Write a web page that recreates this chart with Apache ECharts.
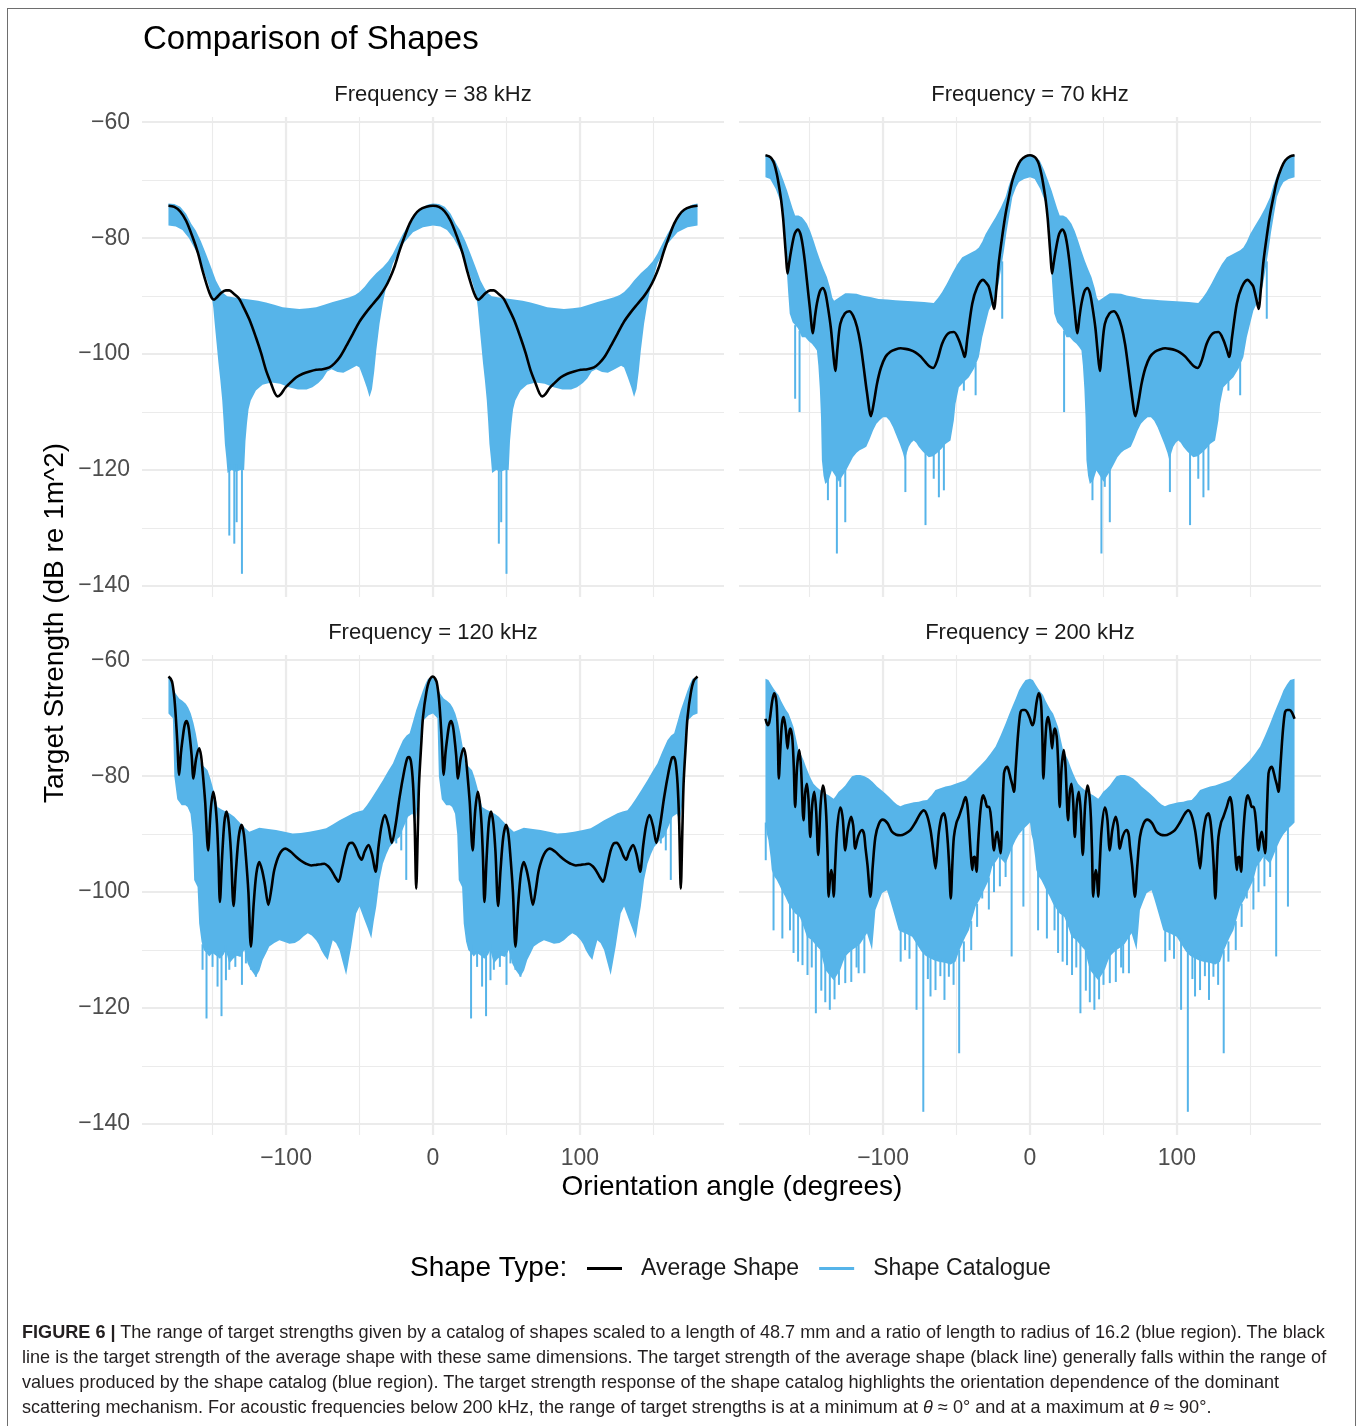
<!DOCTYPE html>
<html>
<head>
<meta charset="utf-8">
<script src="https://cdn.jsdelivr.net/npm/echarts@6/dist/echarts.min.js"></script>
<style>
html,body{margin:0;padding:0;background:#fff;}
#chart{position:absolute;left:0;top:0;width:1360px;height:1312px;}
#frame{position:absolute;left:7px;top:8px;width:1349px;height:1418px;border:1.5px solid #6e6e6e;border-bottom:none;box-sizing:border-box;pointer-events:none;}
#caption{position:absolute;left:22px;top:1320px;font-family:"Liberation Sans",Arial,Helvetica,sans-serif;font-size:18.1px;line-height:25px;color:#231f20;white-space:nowrap;}
</style>
</head>
<body>
<div id="chart"></div>
<div id="frame"></div>
<div id="caption"><b>FIGURE 6 |</b> The range of target strengths given by a catalog of shapes scaled to a length of 48.7 mm and a ratio of length to radius of 16.2 (blue region). The black<br>line is the target strength of the average shape with these same dimensions. The target strength of the average shape (black line) generally falls within the range of<br>values produced by the shape catalog (blue region). The target strength response of the shape catalog highlights the orientation dependence of the dominant<br>scattering mechanism. For acoustic frequencies below 200 kHz, the range of target strengths is at a minimum at <i>θ</i> ≈ 0° and at a maximum at <i>θ</i> ≈ 90°.</div>
<script>
// ---------------- DATA ----------------
// Each panel repeats with a 180° period; values are read for -180..0 and the
// second half of the chart (0..180) repeats the same read values.
const panelTitles = ['Frequency = 38 kHz', 'Frequency = 70 kHz', 'Frequency = 120 kHz', 'Frequency = 200 kHz'];
const xTicksMajor = [-100, 0, 100];
const xTicksMinor = [-150, -100, -50, 0, 50, 100, 150];
const yTicksMajor = [-140, -120, -100, -80, -60];
const yTicksMinor = [-140, -130, -120, -110, -100, -90, -80, -70, -60];

// ---- 38 kHz ----
const avg38 = [[-180,-74.4],[-176,-74.6],[-172,-75.4],[-168,-77],[-163.6,-79.8],[-160,-82.5],[-156.8,-85.6],[-154,-88],[-152,-89.5],[-150.3,-90.4],[-148.9,-90.6],[-147,-90.2],[-144,-89.4],[-141,-89],[-138.6,-89],[-135.5,-89.6],[-132,-90.4],[-129.5,-91.6],[-125,-94],[-120.5,-97.1],[-117,-99.8],[-113.6,-102.8],[-110,-105.2],[-107.5,-106.8],[-105.7,-107.3],[-103.5,-106.9],[-100.5,-105.8],[-97.7,-105.1],[-93,-104],[-88.6,-103.4],[-84,-103],[-79.5,-102.7],[-75,-102.6],[-70.5,-102.3],[-67,-101.6],[-63.6,-100.6],[-59,-98.6],[-54.5,-96.5],[-50,-94.4],[-45.5,-92.8],[-41,-91.4],[-36.4,-90],[-32.5,-88.5],[-29.5,-87],[-26,-84.8],[-22.7,-82.1],[-19,-79.5],[-15.9,-77.5],[-12.5,-76],[-9.1,-75.1],[-4.5,-74.6],[0,-74.4]];
const upper38 = [[-180,-74],[-176,-74.1],[-172,-74.6],[-168,-75.8],[-164.5,-77.5],[-161.4,-78.7],[-158,-80.5],[-154.5,-82.7],[-151,-85],[-147.7,-87.3],[-145,-88.6],[-143,-89.4],[-140,-90],[-136,-90.2],[-130,-90.4],[-125,-90.6],[-119,-90.8],[-113.6,-91.1],[-108,-91.5],[-102.3,-91.9],[-96,-92.1],[-90.9,-92.2],[-85,-92.1],[-79.5,-91.9],[-74,-91.5],[-68.2,-91],[-62,-90.6],[-56.8,-90.2],[-53,-89.8],[-50,-89.3],[-46.5,-88.4],[-43.2,-87.3],[-38.5,-86],[-34.1,-85],[-30.5,-84],[-27.3,-82.7],[-24,-81],[-20.5,-79.3],[-17,-77.8],[-13.6,-76.4],[-10,-75.4],[-6.8,-74.7],[-3.4,-74.2],[0,-74]];
const lower38 = [[-180,-77.8],[-175,-78],[-170.5,-78.6],[-166,-80],[-161,-82.3],[-156.8,-85],[-153,-87.8],[-150.5,-90],[-149.5,-92],[-148.5,-94.8],[-147.3,-98],[-146,-101.5],[-144.7,-104.5],[-143.4,-108],[-142.5,-111.5],[-141.6,-115.5],[-140.6,-118],[-139.8,-120.5],[-137,-120],[-134,-120.3],[-131,-120],[-128.5,-120],[-127.6,-115],[-126.6,-112],[-125.5,-109.5],[-124,-108],[-120.5,-106.3],[-116,-105.3],[-110,-104.9],[-104,-105.1],[-98,-105.7],[-92,-106.1],[-86,-106.1],[-82,-105.7],[-78,-105],[-75,-104.2],[-72,-103],[-69,-102.6],[-65,-103.1],[-61,-103.2],[-57,-102.7],[-52,-102],[-50,-102.3],[-47.5,-104],[-45,-105.8],[-43.2,-107.4],[-41.5,-106],[-40,-103],[-38.6,-99.4],[-36.4,-94.8],[-34,-91],[-31.8,-88.4],[-27.3,-84.4],[-20.5,-81],[-13.6,-79],[-6.8,-78.1],[0,-77.8]];
const spikes38 = [[-138.6,-119,-131.3],[-135.2,-119,-132.7],[-133.6,-119,-129],[-130,-119,-137.9]];

// ---- 70 kHz ----
const avg70 = [[-180,-65.7],[-177.5,-65.9],[-175.7,-66.3],[-174,-67.2],[-172.3,-68.9],[-170.8,-71],[-169.3,-73.5],[-168,-76.5],[-167,-79.8],[-166,-83.2],[-165,-86.1],[-164,-84.5],[-162.5,-82.1],[-160.2,-79.3],[-158,-78.5],[-156.3,-79.2],[-154.8,-81],[-153.3,-83.8],[-151.8,-87.3],[-149.8,-92],[-147.7,-96.4],[-146.3,-93.5],[-145,-91.3],[-143,-89.2],[-141.1,-88.6],[-139.3,-89.4],[-137.5,-91.9],[-135.5,-95.5],[-134,-99.5],[-132.5,-102.9],[-131,-99],[-129.1,-94.8],[-126,-93],[-123,-92.6],[-120.3,-93.4],[-117.7,-95.3],[-115.3,-98.3],[-113.2,-102.2],[-111,-106.5],[-108.2,-110.7],[-106,-108],[-104.1,-105.1],[-101.5,-102.4],[-98.4,-100.5],[-95,-99.6],[-91.6,-99.2],[-88,-99],[-84.8,-99.1],[-81.5,-99.3],[-78,-99.7],[-74.5,-100.4],[-71.1,-101.4],[-68.5,-102.1],[-65.9,-102.4],[-63,-101],[-59.8,-98.2],[-56,-96.5],[-51.8,-96.2],[-48.5,-97.5],[-46,-99.3],[-44.5,-100.5],[-42.5,-97],[-39.3,-91.3],[-36,-88.5],[-32,-87.2],[-29.5,-87.8],[-28,-88.4],[-26,-90.5],[-24.5,-92.2],[-22.8,-88.5],[-21.1,-83.9],[-18.8,-79.5],[-16.6,-75.8],[-14.2,-72.7],[-12,-70.1],[-9,-67.9],[-6.4,-66.6],[-3,-65.9],[0,-65.7]];
const upper70 = [[-180,-65.7],[-176.5,-66],[-173.4,-66.6],[-170.5,-68.2],[-167.7,-70.1],[-165.3,-71.8],[-163.2,-73.5],[-161.5,-74.9],[-159.8,-76.1],[-157.5,-76.1],[-155.2,-76.4],[-153.5,-76.9],[-151.8,-77.5],[-149.5,-78.8],[-147.3,-80.4],[-145,-82.2],[-142.7,-83.9],[-140.5,-85.3],[-138.2,-86.7],[-136,-88.6],[-134.5,-90.3],[-133.3,-90.8],[-131,-90.4],[-128,-89.9],[-125.7,-89.5],[-123.4,-89.5],[-118,-89.6],[-114.3,-89.9],[-108,-90.2],[-103,-90.5],[-97,-90.6],[-91.6,-90.7],[-86,-90.8],[-80.2,-90.9],[-72,-91],[-65.5,-91.2],[-62.5,-90.3],[-59.8,-89.3],[-56.5,-87.8],[-53,-86.1],[-49.5,-84.5],[-46.1,-83.3],[-42.5,-82.8],[-39.3,-82.4],[-37,-82.1],[-34.8,-81.6],[-32.5,-80.6],[-30.2,-79.3],[-26.8,-77.8],[-23.4,-76.4],[-20,-74.8],[-16.6,-72.9],[-14.5,-71],[-12,-69.2],[-8.5,-67.5],[-5.2,-66.3],[-2.5,-65.8],[0,-65.7]];
const lower70 = [[-180,-69.5],[-176.8,-69.8],[-173,-71.5],[-170.5,-73.2],[-168.2,-74.7],[-167,-78],[-166.2,-82],[-165.5,-85.6],[-164.5,-89.5],[-163.5,-93],[-161.5,-94.5],[-158,-95.5],[-155.2,-97.1],[-152.9,-97.1],[-150.5,-97.8],[-148.4,-98.2],[-146.5,-98.8],[-145,-99.4],[-144,-102],[-143,-106],[-142.2,-111],[-141.6,-118.3],[-140.5,-121],[-139.3,-122.4],[-137,-121.8],[-134.8,-120.1],[-132.5,-121],[-130,-122],[-127.5,-121],[-125,-120],[-122.5,-118.8],[-120.5,-117.8],[-118,-117],[-115.9,-116.6],[-113.5,-116.3],[-111.4,-116],[-109,-114.6],[-106.8,-113.2],[-104.5,-112],[-102.3,-111.4],[-100,-110.9],[-97.7,-110.9],[-95.5,-111.5],[-93.2,-112.6],[-91,-114],[-88.6,-115.5],[-86.5,-117],[-85.2,-118.3],[-83.8,-117],[-82.5,-116],[-80.8,-115.3],[-79.1,-114.9],[-77.4,-115.3],[-75.7,-116],[-73,-116.8],[-70.5,-117.4],[-68.9,-117.8],[-66,-117.6],[-63,-117],[-60,-116.3],[-57.5,-115.5],[-54.1,-114.9],[-51.8,-111.4],[-50.7,-108.6],[-48.4,-105.7],[-45,-104.8],[-41.6,-104],[-38,-102.5],[-34.8,-100.5],[-32.5,-97.1],[-30,-94.5],[-28,-92.5],[-25.5,-91.2],[-23.4,-90.2],[-21.5,-88],[-19.5,-85],[-17.7,-82.1],[-16,-79],[-14.3,-76.4],[-12,-72.9],[-9.5,-71.2],[-7.5,-70.3],[-4,-69.8],[0,-69.5]];
const spikes70 = [[-159.8,-95,-107.7],[-156.8,-96,-110],[-137.5,-121,-125.2],[-131.4,-121,-134.4],[-129.1,-121,-122.9],[-125.7,-119.5,-129],[-84.8,-117,-123.8],[-71.1,-117,-129.5],[-65.5,-117,-121.5],[-62,-116.5,-124.7],[-58.6,-115.5,-123.5],[-45,-104.5,-106.3],[-37,-101.5,-107.1],[-18.9,-84,-93.9]];

// ---- 120 kHz ----
const avg120 = [[-180,-62.8],[-178.5,-63.2],[-177.3,-64],[-176,-66.5],[-175,-69.8],[-174,-74],[-172.7,-79.8],[-171.5,-76],[-170.5,-73.8],[-169,-71.2],[-167.7,-70.5],[-166.5,-71.3],[-165.5,-73.2],[-164.2,-76.5],[-163,-80.4],[-161.2,-77],[-159.1,-75.2],[-157.8,-76.5],[-156.8,-79],[-155,-84.5],[-153,-92.8],[-151.3,-86],[-149.5,-82.7],[-148.2,-84.5],[-147,-88.2],[-146,-94],[-145,-101.7],[-143.5,-94],[-142,-88],[-140.5,-86.1],[-139,-88],[-137.5,-93],[-135.7,-102.4],[-134,-96],[-132.2,-90.5],[-130.2,-88.4],[-128.7,-90],[-127.3,-93.9],[-125.6,-100],[-123.9,-109.4],[-122,-102],[-120.2,-96.8],[-118.2,-94.8],[-116.3,-96.2],[-114.5,-98.5],[-112,-102.2],[-110,-99.5],[-108,-96.2],[-104.5,-93.5],[-100.5,-92.5],[-97,-93],[-93.2,-93.9],[-89.8,-94.6],[-86.4,-95.1],[-82.8,-95.4],[-79.5,-95.3],[-76.5,-95.2],[-73.9,-95.1],[-71.5,-95.5],[-69.3,-96.2],[-66.8,-97.3],[-64.3,-98.2],[-61.8,-95.8],[-59.1,-92.8],[-57,-91.6],[-55,-91.5],[-52.5,-92.4],[-50.5,-93.7],[-48.6,-94.4],[-46.5,-93],[-43.9,-91.9],[-41.5,-93.5],[-39.1,-96.5],[-37,-92],[-35,-88.5],[-32.7,-86.7],[-30.3,-88.6],[-28,-91.5],[-25.5,-88.5],[-22.7,-83.6],[-19.5,-79],[-17.5,-76.9],[-16.4,-76.7],[-15,-77.5],[-13.6,-81.3],[-12.5,-88],[-11.4,-99.4],[-10.3,-89],[-9.5,-81.3],[-8,-74.5],[-6.8,-69.8],[-4.5,-65.5],[-2.5,-63.5],[0,-62.8]];
const upper120 = [[-180,-62.9],[-178.5,-63.5],[-177.3,-64.6],[-175,-65.8],[-172.7,-66.6],[-170.5,-67],[-168.2,-67.5],[-166.5,-68.2],[-164.8,-69.2],[-163,-70.8],[-161.4,-72.6],[-159.7,-75],[-158,-77.8],[-155.5,-78.4],[-153.4,-79],[-151.5,-80.4],[-150,-81.8],[-148.3,-83.5],[-146.6,-85.3],[-143.5,-85.8],[-140.9,-86.1],[-138,-86.5],[-135.2,-87],[-133,-87.6],[-130.7,-88.2],[-128,-88.9],[-125,-89.6],[-122,-89.3],[-118.2,-88.9],[-112,-89.1],[-106.8,-89.3],[-101,-89.6],[-95.5,-89.9],[-90,-89.8],[-84.1,-89.6],[-78,-89.3],[-72.7,-89],[-68,-88.3],[-63.6,-87.6],[-59,-87],[-54.5,-86.4],[-51,-86.1],[-47.7,-85.9],[-45,-85],[-42,-83.9],[-38,-82.3],[-34.1,-80.7],[-30.5,-79.1],[-27.3,-77.8],[-24,-75.8],[-20.5,-73.8],[-18,-73],[-15.9,-72.6],[-13.5,-70.5],[-11.4,-68.6],[-9,-66.8],[-6.8,-65.2],[-5,-64],[-3.4,-63.2],[0,-62.9]];
const lower120 = [[-180,-69.2],[-177,-70],[-176,-80],[-174,-84],[-171,-85],[-168.5,-85],[-167,-85.3],[-165,-86.5],[-163.5,-90],[-162.5,-97.9],[-160.2,-99.1],[-159.1,-105.4],[-157.5,-108.5],[-156,-110],[-154,-110.5],[-152.3,-111.1],[-150,-110.5],[-147.5,-111],[-145,-111.5],[-142.5,-110.8],[-141,-110],[-138.6,-112.3],[-136,-111.5],[-133.5,-111],[-131,-111.2],[-128.4,-110],[-126.1,-112.3],[-123.9,-113.4],[-120.5,-114.6],[-118,-113.5],[-115.9,-111.7],[-113.5,-110.5],[-111.4,-109.4],[-108,-108.8],[-104.5,-108.3],[-101,-108.6],[-97.7,-108.9],[-94,-108.8],[-90.9,-108.3],[-88,-107.6],[-85.2,-107.1],[-82.5,-107.5],[-79.5,-108.3],[-77.8,-109],[-76.1,-110],[-73.8,-111],[-71.6,-111.7],[-70,-110],[-68.2,-108.3],[-66,-108.8],[-63.6,-110],[-61.5,-112],[-59.1,-114.3],[-57.5,-112],[-55.7,-109.4],[-54,-106.5],[-52.3,-103.7],[-50,-102.5],[-48.5,-103.5],[-46.6,-104.8],[-44.5,-106.2],[-42,-108],[-40.3,-105],[-38.6,-102.5],[-36.4,-97.9],[-34.1,-95.1],[-31.8,-93.5],[-29.5,-92.2],[-26,-91.2],[-22.7,-90.5],[-20,-88.8],[-17,-87],[-14,-86.5],[-12,-88],[-10,-84],[-8.5,-75],[-7,-70.5],[-3,-69.5],[0,-69.2]];
const spikes120 = [[-156.8,-109,-113.4],[-154.1,-109,-121.8],[-150,-110,-112.9],[-146.6,-110,-116.3],[-143.9,-110,-121.4],[-140.9,-109,-115.2],[-138.6,-111,-113.4],[-134.5,-110,-112.9],[-130,-110,-116],[-127.3,-110,-112.3],[-123.9,-112,-113.4],[-120.5,-113,-114.6],[-25,-90,-91.6],[-21.6,-89,-92.8],[-18.2,-87,-97.9]];

// ---- 200 kHz ----
const avg200 = [[-180,-70.1],[-179.2,-70.8],[-178.4,-71.2],[-177.5,-70.8],[-176.8,-69.8],[-175.5,-67.2],[-174.1,-65.7],[-173,-66.4],[-172.3,-68],[-171.6,-73],[-170.9,-80.4],[-169.8,-75],[-168.8,-71],[-167.7,-69.8],[-166.8,-70.8],[-166.1,-72.1],[-165,-75.2],[-164,-72.8],[-163.2,-71.8],[-162.4,-72.3],[-161.6,-73.8],[-160.7,-78.5],[-159.8,-85.3],[-158.5,-78.5],[-157,-75.5],[-155.8,-78.5],[-154.1,-87.6],[-153,-83],[-151.8,-81.3],[-150.7,-84],[-149.5,-90.5],[-148.2,-85],[-146.8,-82.7],[-145.5,-86],[-144.1,-93.6],[-142.5,-85],[-140.9,-81.6],[-139.7,-83],[-138.6,-87],[-137.8,-93],[-137,-100.8],[-136,-97.5],[-135.2,-96.2],[-134.4,-97.5],[-133.6,-100.8],[-132.5,-95],[-131.2,-89],[-129.1,-85.4],[-128.2,-86],[-127.3,-87.6],[-125.7,-92.8],[-124,-89.3],[-121.8,-87],[-120.3,-88.5],[-118.9,-92.5],[-116.8,-90.3],[-114.3,-89.3],[-112.9,-90],[-112,-92.2],[-110.5,-95.5],[-108.6,-100.8],[-107,-95.5],[-105.2,-90.5],[-102.8,-88.2],[-100.2,-87.5],[-97,-88.1],[-93.9,-89.6],[-91,-90.1],[-88.2,-90.2],[-84.8,-89.9],[-81.4,-89.3],[-78,-88],[-75,-86.6],[-72.3,-85.9],[-70,-86.8],[-67.7,-89.3],[-66,-92.5],[-64.3,-95.9],[-63,-92.5],[-62,-89.6],[-60.2,-87],[-58.6,-86.4],[-57.2,-87.8],[-55.9,-91.6],[-55,-95.5],[-53.9,-101.1],[-52.8,-95],[-51.8,-90.5],[-50,-88],[-48.4,-87],[-46,-85.2],[-43.9,-83.6],[-42.7,-84.8],[-41.6,-88.2],[-40.4,-93],[-39.3,-96.2],[-38.4,-94],[-37.5,-93.9],[-36.9,-95.5],[-36.4,-96.5],[-35.3,-91.5],[-34.1,-87],[-32.9,-84.2],[-31.8,-83.3],[-30.4,-84.2],[-29.1,-85.3],[-27.8,-85.3],[-26.4,-87.5],[-24.5,-92.8],[-23.3,-90.5],[-22.3,-89.6],[-21.1,-91.5],[-20,-93.3],[-18.8,-86],[-17.7,-79.5],[-16.6,-78.6],[-15.5,-78.4],[-14.3,-79.2],[-13.2,-80.4],[-12,-81.5],[-10.9,-82.7],[-9.8,-79],[-8.6,-74.4],[-7.5,-71],[-6.4,-68.9],[-5,-68.6],[-3.4,-68.6],[-1.8,-69],[0,-70.1]];
const upper200 = [[-180,-63.2],[-178,-63.4],[-176.2,-64.2],[-174.5,-64.9],[-172.8,-65.5],[-171.1,-66],[-169.4,-67],[-167.7,-67.8],[-166,-68.6],[-164.3,-69.2],[-162.6,-70.3],[-160.9,-71.5],[-159.2,-73.5],[-157.5,-75.5],[-155.8,-76.3],[-154.1,-77.2],[-152.4,-78.4],[-150.7,-79.5],[-149,-80.5],[-147.3,-81.3],[-145,-81.9],[-142.7,-82.4],[-140,-82.9],[-137,-83.3],[-135.3,-83.6],[-133.6,-83.9],[-132,-83.4],[-130.2,-82.7],[-128,-82.2],[-125.7,-81.6],[-123.4,-80.8],[-121.1,-80],[-118.3,-79.8],[-115.5,-79.8],[-112.6,-80],[-109.8,-80.4],[-107,-81],[-104.1,-81.8],[-101.2,-82.4],[-98.4,-83],[-95.5,-83.7],[-92.7,-84.4],[-90.5,-84.9],[-88.2,-85.2],[-85.4,-84.9],[-82.5,-84.7],[-79,-84.5],[-75.7,-84.4],[-72.8,-84.2],[-70,-84.1],[-67,-83.3],[-64.3,-82.4],[-61,-82.1],[-57.5,-81.8],[-54,-81.6],[-50.7,-81.3],[-47.3,-81],[-43.9,-80.7],[-40.5,-79.9],[-37,-79],[-33.6,-78.1],[-30.2,-77.2],[-26.8,-76.1],[-23.4,-74.9],[-20,-73],[-16.6,-70.9],[-14.3,-69.4],[-12,-68],[-9.7,-66.6],[-7.5,-65.2],[-5.2,-64.2],[-3,-63.4],[0,-63.2]];
const lower200 = [[-180,-88],[-179,-90],[-178,-91],[-176.5,-94],[-175.7,-96.2],[-174,-97.3],[-172.3,-97.9],[-170.5,-98.8],[-168.9,-99.7],[-166.5,-100.8],[-164.3,-102],[-162,-102.9],[-159.8,-103.7],[-158,-104],[-156.6,-104.3],[-154,-106],[-151.8,-107.7],[-150,-108],[-148.4,-108.3],[-145.5,-109.2],[-142.7,-110],[-141,-111.7],[-139.3,-113.4],[-136.5,-114.3],[-133.6,-115.2],[-131.3,-114.3],[-129.1,-113.4],[-127.4,-112.2],[-125.7,-111.1],[-123.4,-110.5],[-121.1,-110],[-118.3,-109.5],[-115.5,-108.9],[-113.2,-108],[-110.9,-107.1],[-109.2,-108.5],[-107.5,-110],[-106.3,-106.5],[-105.2,-103.1],[-103,-101.6],[-100.7,-100.2],[-99,-99.9],[-97.3,-99.7],[-95.6,-101],[-93.9,-102.5],[-91.6,-104.5],[-89.3,-106.6],[-87.1,-106.9],[-85,-107.1],[-82.6,-107.4],[-80.2,-107.7],[-77,-109],[-74,-110.2],[-71.1,-111],[-68,-111.4],[-65,-111.8],[-62,-112],[-58,-112.2],[-54,-112.5],[-50.7,-112],[-48.4,-110.3],[-46.1,-108.9],[-43.9,-107.7],[-41.6,-106.6],[-39.3,-104.5],[-37,-102.5],[-34,-101.2],[-31,-99.5],[-28,-97.9],[-25.7,-95.6],[-23.4,-94.8],[-21.1,-93.9],[-18.9,-94.5],[-16.6,-95.1],[-14.3,-93.7],[-12,-92.2],[-9.8,-91],[-7.5,-90],[-4,-89],[-2,-88.5],[0,-88]];
const spikes200 = [[-179.8,-88,-94.5],[-174.5,-96,-106.6],[-168.5,-99,-108],[-163.3,-101,-106.6],[-160.9,-103,-110.5],[-157.8,-103.5,-112],[-154.8,-105,-112.6],[-151.4,-107,-114.3],[-148.5,-108,-113],[-145.7,-108.5,-120.9],[-142,-110,-117],[-139.3,-112.5,-119],[-136.2,-113.5,-120.3],[-133,-114.5,-118.5],[-130,-113.5,-116],[-125.7,-110.5,-115.7],[-121.6,-109.5,-115.5],[-118,-109,-113],[-116.6,-108.5,-114],[-112.7,-107.5,-114],[-88,-106.5,-112],[-85,-106.5,-110],[-82,-107,-111.5],[-77.2,-108,-120.3],[-72.6,-110,-137.9],[-69.5,-110.5,-115],[-67.7,-110.5,-118],[-64.3,-111,-116.9],[-61,-111.5,-114.5],[-58.2,-111.5,-118.6],[-55.2,-112,-114.6],[-52,-111.5,-116],[-48.2,-110,-127.8],[-45,-108.5,-112],[-40,-105,-110],[-36,-102,-106],[-32.5,-100,-101.1],[-28,-97.5,-103],[-24.5,-95,-100],[-20.5,-93.5,-99],[-16.6,-94.5,-97.4],[-12.5,-92,-111.1],[-4.5,-88.5,-102.5]];

// ---------------- BUILD ----------------
const BLUE = '#56B4E9';
const FONT = '"Liberation Sans", Arial, Helvetica, sans-serif';
function fullPeriod(half) { // the read values for -180..0, then the same values repeated for 0..180
  return half.concat(half.slice(1).map(p => [p[0] + 180].concat(p.slice(1))));
}
const panels = [
  {avg: avg38, up: upper38, lo: lower38, sp: spikes38},
  {avg: avg70, up: upper70, lo: lower70, sp: spikes70},
  {avg: avg120, up: upper120, lo: lower120, sp: spikes120},
  {avg: avg200, up: upper200, lo: lower200, sp: spikes200}
].map(p => ({avg: fullPeriod(p.avg), up: fullPeriod(p.up), lo: fullPeriod(p.lo), sp: fullPeriod(p.sp)}));

const gridRects = [
  {left: 142, top: 117, width: 582, height: 480},
  {left: 739, top: 117, width: 582, height: 480},
  {left: 142, top: 655, width: 582, height: 480},
  {left: 739, top: 655, width: 582, height: 480}
];
const minus = v => String(v).replace('-', '\u2212');
const grid = [], xAxis = [], yAxis = [], series = [];
gridRects.forEach((g, i) => {
  grid.push(Object.assign({containLabel: false}, g));
  const bottomRow = i >= 2, leftCol = i % 2 === 0;
  // minor + major gridlines
  [[xTicksMinor, 1.1, false], [xTicksMajor, 2.2, bottomRow]].forEach(([vals, w, lab]) => {
    xAxis.push({gridIndex: i, type: 'value', min: -198, max: 198, position: 'bottom',
      axisLine: {show: false}, axisTick: {show: false, customValues: vals},
      axisLabel: {show: lab, customValues: vals, formatter: minus, fontFamily: FONT, fontSize: 23, color: '#4D4D4D', margin: 12},
      splitLine: {show: true, lineStyle: {color: '#EBEBEB', width: w}}});
  });
  [[yTicksMinor, 1.1, false], [yTicksMajor, 2.2, leftCol]].forEach(([vals, w, lab]) => {
    yAxis.push({gridIndex: i, type: 'value', min: -141.9, max: -59.1, position: 'left',
      axisLine: {show: false}, axisTick: {show: false, customValues: vals},
      axisLabel: {show: lab, customValues: vals, formatter: minus, fontFamily: FONT, fontSize: 23, color: '#4D4D4D', margin: 12},
      splitLine: {show: true, lineStyle: {color: '#EBEBEB', width: w}}});
  });
  const P = panels[i];
  series.push({
    type: 'custom', name: 'Shape Catalogue', xAxisIndex: 2 * i + 1, yAxisIndex: 2 * i + 1,
    data: [[0, -100]], silent: true, z: 2, itemStyle: {color: BLUE},
    renderItem: (params, api) => {
      const pts = P.up.map(p => api.coord([p[0], p[1]]))
        .concat(P.lo.slice().reverse().map(p => api.coord([p[0], p[1]])));
      const children = [{type: 'polygon', shape: {points: pts}, style: {fill: BLUE}}];
      P.sp.forEach(s => {
        const a = api.coord([s[0], s[1]]), b = api.coord([s[0], s[2]]);
        children.push({type: 'line', shape: {x1: a[0], y1: a[1], x2: b[0], y2: b[1]}, style: {stroke: BLUE, lineWidth: 2}});
      });
      return {type: 'group', children};
    }
  });
  series.push({
    type: 'line', name: 'Average Shape', xAxisIndex: 2 * i + 1, yAxisIndex: 2 * i + 1,
    data: P.avg, smooth: 0.3, symbol: 'none', z: 3, silent: true,
    itemStyle: {color: '#000'}, lineStyle: {color: '#000', width: 2.6}
  });
});

const centers = [[433, 95], [1030, 95], [433, 633], [1030, 633]];
const graphic = [
  {type: 'text', x: 143, y: 40, style: {text: 'Comparison of Shapes', font: '33px ' + FONT, fill: '#000', textAlign: 'left', textVerticalAlign: 'middle'}},
  {type: 'text', x: 732, y: 1187, style: {text: 'Orientation angle (degrees)', font: '28px ' + FONT, fill: '#000', textAlign: 'center', textVerticalAlign: 'middle'}},
  {type: 'text', x: 55, y: 623, rotation: Math.PI / 2, style: {text: 'Target Strength (dB re 1m^2)', font: '28px ' + FONT, fill: '#000', textAlign: 'center', textVerticalAlign: 'middle'}},
  {type: 'text', x: 410, y: 1268, style: {text: 'Shape Type:', font: '28px ' + FONT, fill: '#000', textAlign: 'left', textVerticalAlign: 'middle'}}
].concat(panelTitles.map((t, i) => ({type: 'text', x: centers[i][0], y: centers[i][1],
  style: {text: t, font: '22px ' + FONT, fill: '#1A1A1A', textAlign: 'center', textVerticalAlign: 'middle'}})));

const chart = echarts.init(document.getElementById('chart'), null, {renderer: 'canvas'});
chart.setOption({
  animation: false,
  backgroundColor: '#fff',
  grid, xAxis, yAxis, series, graphic,
  legend: {
    data: ['Average Shape', 'Shape Catalogue'], left: 587, top: 1257, orient: 'horizontal', padding: 0,
    icon: 'rect', itemWidth: 35, itemHeight: 3, itemGap: 20, selectedMode: false,
    textStyle: {fontFamily: FONT, fontSize: 23, color: '#1A1A1A', padding: [0, 0, 0, 14]}
  }
});
</script>
</body>
</html>
